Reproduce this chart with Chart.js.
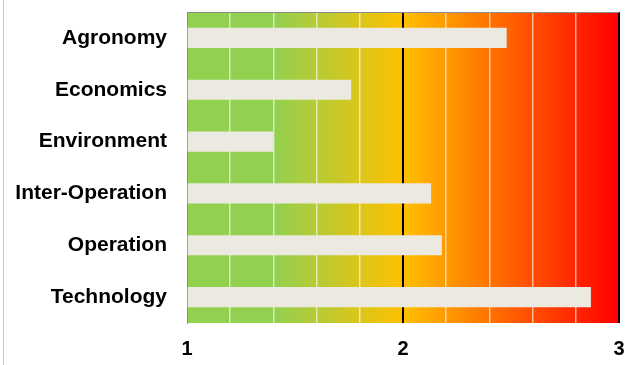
<!DOCTYPE html>
<html>
<head>
<meta charset="utf-8">
<script src="https://cdn.jsdelivr.net/npm/chart.js@4"></script>
<style>
  html, body { margin: 0; padding: 0; background: #fff; }
  #wrap { width: 626px; height: 365px; position: relative; }
</style>
</head>
<body>
<div id="wrap"><canvas id="scoreChart" width="626" height="365"></canvas></div>
<script>
// Data
const categories = ['Agronomy', 'Economics', 'Environment', 'Inter-Operation', 'Operation', 'Technology'];
const scores = [2.48, 1.76, 1.40, 2.13, 2.18, 2.87];
const tickLabels = [1, 2, 3];

// Background gradient + borders behind the bars
const backdrop = {
    id: 'backdrop',
    beforeDraw(chart) {
        const { ctx, chartArea: a } = chart;
        ctx.save();
        const g = ctx.createLinearGradient(a.left, 0, a.right, 0);
        g.addColorStop(0, '#92d050');
        g.addColorStop(0.2, '#92d050');
        g.addColorStop(0.5, '#ffc000');
        g.addColorStop(1, '#ff0000');
        ctx.fillStyle = g;
        ctx.fillRect(a.left, a.top, a.right - a.left, a.bottom - a.top);
        ctx.restore();
    },
    afterDraw(chart) {
        const { ctx, chartArea: a } = chart;
        ctx.save();
        ctx.strokeStyle = '#8c8c8c';
        ctx.lineWidth = 1;
        ctx.beginPath();
        ctx.moveTo(a.left, a.top + 0.5);
        ctx.lineTo(a.right, a.top + 0.5);
        ctx.stroke();
        // page frame on the left
        ctx.strokeStyle = '#c8c8c8';
        ctx.beginPath();
        ctx.moveTo(3.5, 0);
        ctx.lineTo(3.5, chart.height);
        ctx.stroke();
        ctx.restore();
    }
};

const ctx = document.getElementById('scoreChart').getContext('2d');
new Chart(ctx, {
    type: 'bar',
    data: {
        labels: categories,
        datasets: [{
            data: scores,
            base: 1,
            backgroundColor: '#eceae0',
            barPercentage: 0.39,
            categoryPercentage: 1
        }]
    },
    options: {
        indexAxis: 'y',
        responsive: false,
        animation: false,
        layout: { padding: { left: 0, top: 12, right: 7, bottom: 0 } },
        plugins: { legend: { display: false }, tooltip: { enabled: false } },
        scales: {
            x: {
                min: 1,
                max: 3,
                afterFit: s => { s.height = 42; s.paddingLeft = 0; s.paddingRight = 0; },
                border: { display: false },
                grid: {
                    drawTicks: false,
                    color: c => (c.tick && (c.tick.value === 2 || c.tick.value === 3)) ? '#000' : 'rgba(255,255,255,0.6)',
                    lineWidth: c => (c.tick && (c.tick.value === 2 || c.tick.value === 3)) ? 2 : 1.5
                },
                ticks: {
                    stepSize: 0.2,
                    padding: 14,
                    maxRotation: 0,
                    color: '#000',
                    font: { family: 'Arial, "Liberation Sans"', size: 20, weight: 'bold' },
                    callback: v => tickLabels.includes(Math.round(v * 100) / 100) ? String(Math.round(v)) : ''
                }
            },
            y: {
                afterFit: s => { s.width = 187; s.paddingTop = 0; s.paddingBottom = 0; },
                border: { display: true, color: '#8c8c8c', width: 1 },
                grid: { display: false, drawTicks: false },
                ticks: {
                    padding: 20,
                    color: '#000',
                    font: { family: 'Arial, "Liberation Sans"', size: 21, weight: 'bold' }
                }
            }
        }
    },
    plugins: [backdrop]
});
</script>
</body>
</html>
